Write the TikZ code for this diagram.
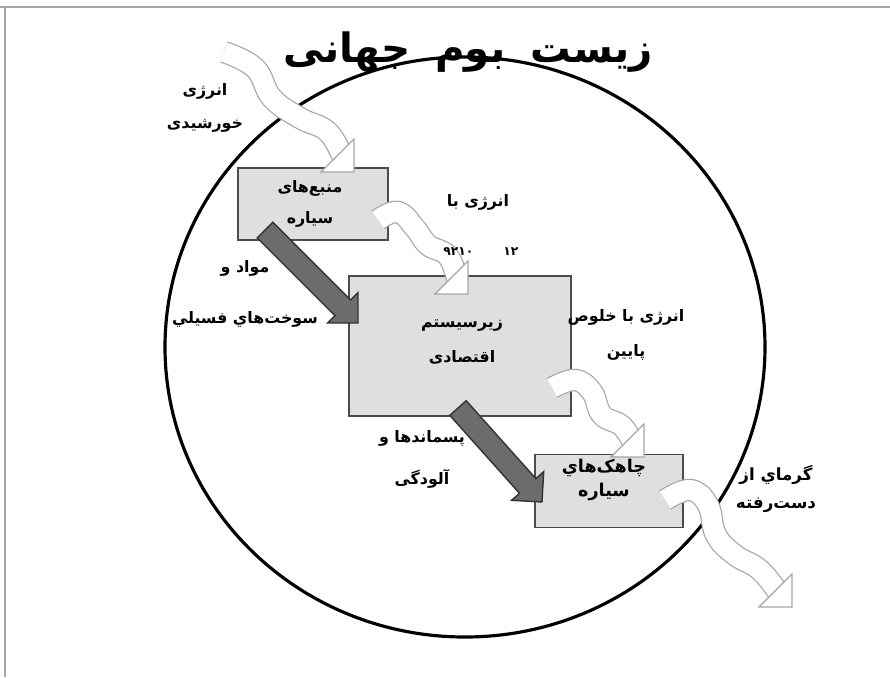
\documentclass[tikz,border=0pt]{standalone}
\usepackage{fontspec}
\newfontfamily\farsi[Script=Arabic]{DejaVu Sans}
\TeXXeTstate=1
\usetikzlibrary{calc}
\newcommand{\fatext}[1]{\beginR #1\endR}

\tikzset{
  sysbox/.style={draw=gray!60!black, fill=gray!25, line width=0.9pt},
  lbl/.style={font=\farsi\bfseries\fontsize{9}{#1}\selectfont, align=center, inner sep=0pt},
  lbl/.default=20,
  wave/.style={draw=gray!70, line width=0.7pt, double=white, double distance=0.4cm},
  wavehead/.style={draw=gray!70, line width=0.7pt, fill=white, line join=miter},
  fatarr/.style={draw=black!80, line width=0.8pt, fill=gray!85!black, line join=miter}
}

\begin{document}
\begin{tikzpicture}[x=0.02cm, y=-0.02cm]
    \useasboundingbox (0,0) rectangle (890,677);

    % frame
    \draw[gray!70, line width=0.8pt] (0,7) -- (890,7);
    \draw[gray!70, line width=0.8pt] (5,7) -- (5,677);

    % ecosphere
    \draw[line width=1.8pt] (465,347) ellipse [x radius=300, y radius=290];
    \node[font=\farsi\bfseries\fontsize{23}{24}\selectfont, inner sep=0pt] (title) at (468,52)
      {\fatext{زیست\hspace{0.5cm}بوم\hspace{0.5cm}جهانی}};

    % boxes
    \node[sysbox, minimum width=3cm, minimum height=1.44cm] (sources) at (313,204) {};
    \node[sysbox, minimum width=4.44cm, minimum height=2.8cm] (econ) at (460,346) {};
    \node[sysbox, minimum width=2.96cm, minimum height=1.46cm] (sinks) at (609,491) {};

    \node[lbl=18] (sourcestxt) at (310,204) {\fatext{منبع‌های}\\\fatext{سیاره}};
    \node[lbl=20] (econtxt) at (462,342) {\fatext{زیرسیستم}\\\fatext{اقتصادی}};
    \node[lbl=14, font=\farsi\bfseries\fontsize{10}{14}\selectfont] (sinkstxt) at (604,480)
      {\fatext{چاهک‌هاي}\\\fatext{سیاره}};

    % matter flows
    \coordinate (f1s) at (265,230);
    \coordinate (f1t) at (358,323);
    \coordinate (f2s) at (458,408);
    \coordinate (f2t) at (542,502);
    \foreach \s/\t in {f1s/f1t, f2s/f2t} {
      \coordinate (h) at ($(\t)!0.43cm!(\s)$);
      \draw[fatarr] ($(\s)!0.22cm!90:(\t)$) -- ($(h)!0.22cm!90:(\t)$)
        -- ($(h)!0.43cm!90:(\t)$) -- (\t) -- ($(h)!0.43cm!-90:(\t)$)
        -- ($(h)!0.22cm!-90:(\t)$) -- ($(\s)!0.22cm!-90:(\t)$) -- cycle;
    }

    % energy flows
    \coordinate (w1t) at (354,172);
    \coordinate (w2t) at (468,294);
    \coordinate (w3t) at (644,457);
    \coordinate (w4t) at (792,607);
    \draw[wave] plot[smooth, tension=0.7] coordinates
      {(224,52) (255,68) (272,98) (300,118) (328,132) (344,160)};
    \draw[wave] plot[smooth, tension=0.7] coordinates
      {(378,220) (398,212) (415,228) (428,245) (448,256) (458,282)};
    \draw[wave] plot[smooth, tension=0.7] coordinates
      {(552,388) (575,380) (592,392) (602,415) (622,426) (634,445)};
    \draw[wave] plot[smooth, tension=0.7] coordinates
      {(665,500) (690,490) (708,505) (716,535) (735,555) (760,570) (780,595)};
    \foreach \t in {w1t,w2t,w3t,w4t}
      \draw[wavehead] (\t) -- ++(0,-33) -- ++(-33,33) -- cycle;

    % labels
    \node[lbl=19] (solar) at (205,108) {\fatext{انرژی}\\\fatext{خورشیدی}};
    \node[lbl] (hq) at (478,202) {\fatext{انرژی با}};
    \node[lbl, font=\farsi\bfseries\fontsize{7}{8}\selectfont] (hqcut) at (481,252)
      {۹۲۱۰\hspace{0.6cm}۱۲};
    \node[lbl=29.5] (fuels) at (245,294) {\fatext{مواد و}\\\fatext{سوخت‌هاي فسيلي}};
    \node[lbl=20] (lowq) at (626,335) {\fatext{انرژی با خلوص}\\\fatext{پایین}};
    \node[lbl=24] (waste) at (422,459) {\fatext{پسماندها و}\\\fatext{آلودگی}};
    \node[lbl=16, font=\farsi\bfseries\fontsize{9.5}{16}\selectfont] (heat) at (776,489)
      {\fatext{گرماي از}\\\fatext{دست‌رفته}};
\end{tikzpicture}
\end{document}
